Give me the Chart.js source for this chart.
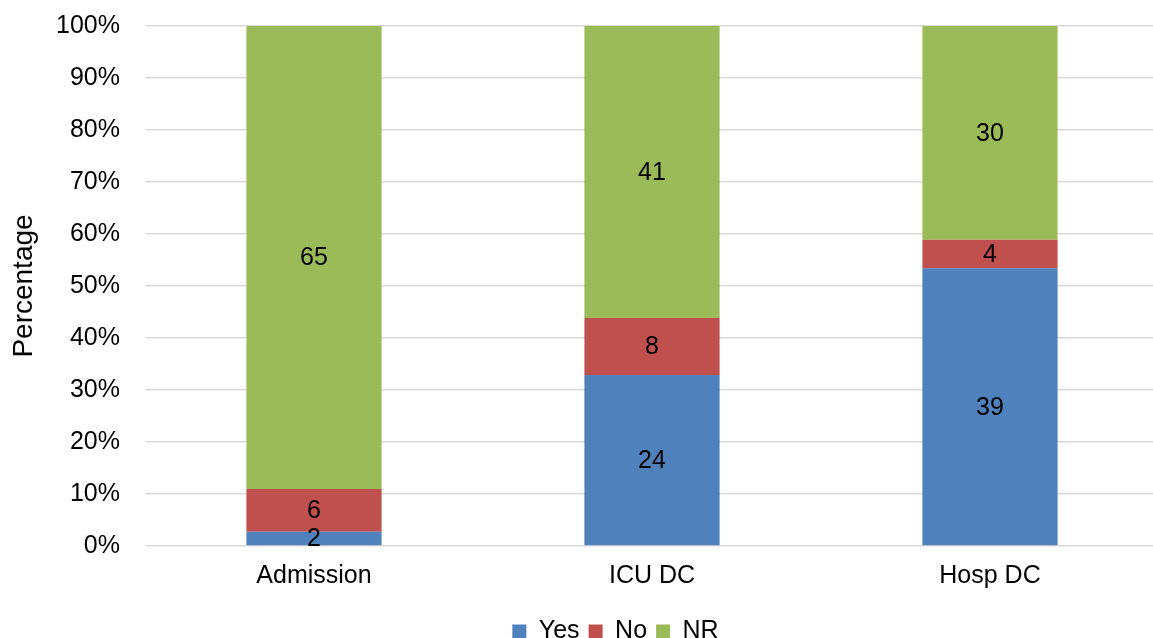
<!DOCTYPE html>
<html>
<head>
<meta charset="utf-8">
<script src="https://cdn.jsdelivr.net/npm/chart.js@4/dist/chart.umd.min.js"></script>
<style>
  html, body { margin: 0; padding: 0; background: #fff; overflow: hidden; }
</style>
</head>
<body>
<canvas id="bar1" width="1165" height="654"></canvas>
<script>
// counts per stage
var stages = ["Admission", "ICU DC", "Hosp DC"];
var yesCounts = [2, 24, 39];
var noCounts = [6, 8, 4];
var nrCounts = [65, 41, 30];
var yTicks = [0, 10, 20, 30, 40, 50, 60, 70, 80, 90, 100];

var totals = stages.map(function (s, i) {
    return yesCounts[i] + noCounts[i] + nrCounts[i];
});

function toPct(arr) {
    return arr.map(function (v, i) { return v / totals[i] * 100; });
}

var FONT = "'Liberation Sans', Arial, sans-serif";
var FS = 25;

// writes the raw count in the middle of every segment
var countLabels = {
    id: 'countLabels',
    afterDatasetsDraw: function (chart) {
        var ctx = chart.ctx;
        ctx.save();
        ctx.font = FS + 'px ' + FONT;
        ctx.fillStyle = '#000';
        ctx.textAlign = 'center';
        ctx.textBaseline = 'middle';
        chart.data.datasets.forEach(function (ds, di) {
            var meta = chart.getDatasetMeta(di);
            meta.data.forEach(function (bar, i) {
                var mid = (bar.y + bar.base) / 2;
                ctx.fillText(String(ds.counts[i]), bar.x, mid + 1);
            });
        });
        ctx.restore();
    }
};

// nudge the legend to the right, under the plot
var legendShift = {
    id: 'legendShift',
    afterLayout: function (chart) {
        var lg = chart.legend;
        if (!lg) return;
        lg.left += 36;
        lg.right += 36;
        (lg.legendHitBoxes || []).forEach(function (h) { h.left += 36; });
    }
};

var myBarChart = new Chart(document.getElementById("bar1"), {
    type: 'bar',
    data: {
        labels: stages,
        datasets: [
            { label: 'Yes', counts: yesCounts, data: toPct(yesCounts), backgroundColor: '#4F81BD' },
            { label: 'No', counts: noCounts, data: toPct(noCounts), backgroundColor: '#C0504D' },
            { label: 'NR', counts: nrCounts, data: toPct(nrCounts), backgroundColor: '#9BBB59' }
        ]
    },
    options: {
        responsive: false,
        animation: false,
        layout: { padding: { top: 26, right: 6, left: 0, bottom: 0 } },
        datasets: { bar: { barPercentage: 0.4, categoryPercentage: 1.0 } },
        plugins: {
            legend: {
                position: 'bottom',
                labels: {
                    boxWidth: 14,
                    boxHeight: 14,
                    padding: 9,
                    color: '#000',
                    font: { family: FONT, size: FS }
                }
            },
            tooltip: { enabled: false }
        },
        scales: {
            x: {
                stacked: true,
                grid: { display: false },
                border: { display: false },
                ticks: { color: '#000', padding: 7, font: { family: FONT, size: FS } },
                afterFit: function (scale) { scale.height = 64; }
            },
            y: {
                stacked: true,
                min: 0,
                max: 100,
                afterBuildTicks: function (scale) {
                    scale.ticks = yTicks.map(function (v) { return { value: v }; });
                },
                // invisible tick marks keep the labels clear of the plot
                grid: { color: '#D9D9D9', lineWidth: 1.5, drawTicks: true, tickLength: 25, tickColor: 'rgba(0,0,0,0)' },
                border: { display: false },
                ticks: {
                    color: '#000',
                    padding: 0,
                    font: { family: FONT, size: FS },
                    callback: function (v) { return v + '%'; }
                },
                title: {
                    display: true,
                    text: 'Percentage',
                    color: '#000',
                    padding: { top: 7, bottom: 0 },
                    font: { family: FONT, size: 28 }
                },
                afterFit: function (scale) { scale.width = 145; }
            }
        }
    },
    plugins: [countLabels, legendShift]
});
</script>
</body>
</html>
